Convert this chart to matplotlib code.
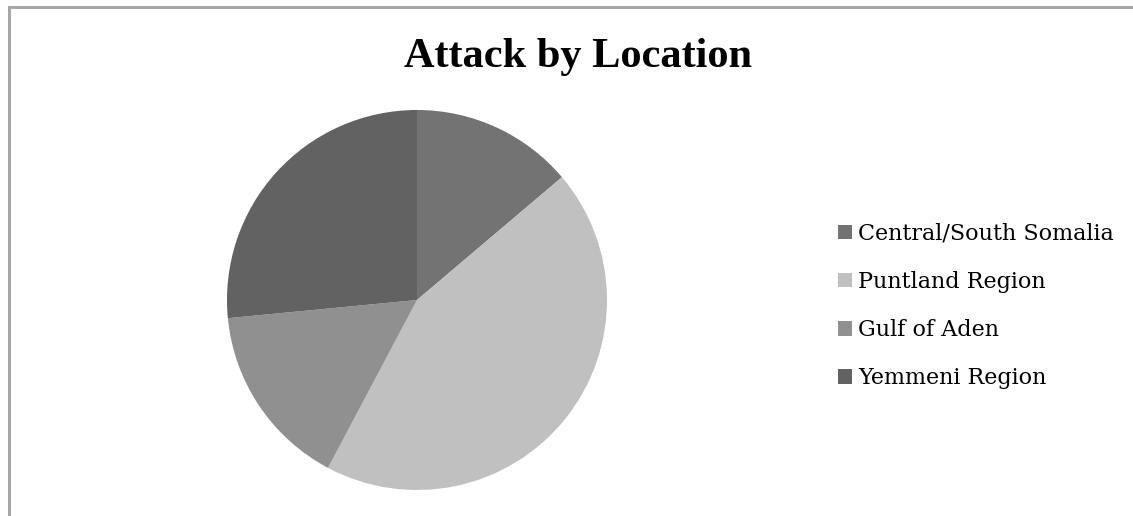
import matplotlib
matplotlib.use("Agg")
import matplotlib.pyplot as plt
from matplotlib.patches import Patch, Rectangle

labels = ["Central/South Somalia", "Puntland Region", "Gulf of Aden", "Yemmeni Region"]
values = [13.8, 43.9, 15.7, 26.5]
colors = ["#737373", "#c0c0c0", "#909090", "#626262"]

W, H = 1133, 516
fig = plt.figure(figsize=(W / 100, H / 100), dpi=100)
fig.patch.set_facecolor("white")

# outer frame (partially visible)
fig.patches.append(Rectangle((9 / W, -0.1), 1.2, (516 - 7) / H + 0.1, transform=fig.transFigure,
                             fill=False, edgecolor="#a6a6a6", linewidth=2.2, zorder=0))

cx, cy, r = 417, 300, 190
ax = fig.add_axes([(cx - r) / W, (H - cy - r) / H, 2 * r / W, 2 * r / H])
ax.pie(values, colors=colors, startangle=90, counterclock=False, radius=1,
       wedgeprops=dict(linewidth=0))
ax.set_xlim(-1, 1)
ax.set_ylim(-1, 1)
ax.set_aspect("equal")
ax.axis("off")

fig.text(578 / W, 1 - 57 / H, "Attack by Location", ha="center", va="center",
         fontsize=30.5, fontweight="bold", family="Liberation Serif")

handles = [Patch(facecolor=c, edgecolor="none") for c in colors]
leg = fig.legend(handles, labels, loc="center left", bbox_to_anchor=(838 / W, 1 - 306 / H),
                 frameon=False, prop=dict(family="DejaVu Serif", size=16),
                 handlelength=0.63, handleheight=0.63, handletextpad=0.27,
                 labelspacing=1.18, borderpad=0, borderaxespad=0)

fig.savefig("out.png", dpi=100)
